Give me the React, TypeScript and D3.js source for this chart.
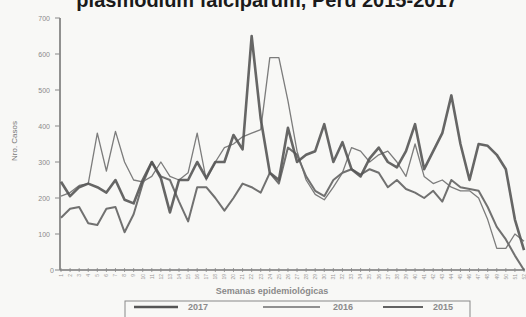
import React from "react";
import * as d3 from "d3";

const weeks: number[] = Array.from({ length: 52 }, (_, i) => i + 1);

const cases2017: number[] = [245, 205, 230, 240, 230, 215, 250, 195, 185, 250, 300, 255, 160, 250, 250, 300, 255, 300, 300, 375, 335, 650, 420, 270, 250, 395, 300, 320, 330, 405, 300, 355, 280, 260, 310, 340, 300, 285, 330, 405, 280, 330, 380, 485, 350, 250, 350, 345, 320, 280, 140, 55];
const cases2016: number[] = [205, 215, 235, 240, 380, 275, 385, 300, 250, 245, 260, 300, 260, 250, 270, 380, 250, 300, 340, 350, 370, 380, 390, 590, 590, 470, 330, 250, 210, 195, 230, 270, 340, 330, 300, 320, 330, 300, 260, 350, 260, 240, 250, 230, 220, 220, 200, 140, 60, 60, 100, 80];
const cases2015: number[] = [145, 170, 175, 130, 125, 170, 175, 105, 155, 240, 300, 260, 250, 190, 135, 230, 230, 200, 165, 200, 240, 230, 215, 270, 240, 340, 320, 260, 220, 205, 250, 270, 280, 265, 280, 270, 230, 250, 225, 215, 200, 220, 190, 250, 230, 225, 220, 175, 120, 85, 40, 0];

const yTicks: number[] = [0, 100, 200, 300, 400, 500, 600, 700];
const seriesNames: string[] = ["2017", "2016", "2015"];
const title = "plasmodium falciparum, Perú 2015-2017";
const yTitle = "Nro. Casos";
const xTitle = "Semanas epidemiológicas";

const W = 526;
const H = 317;

export default function App() {
  const x = d3.scaleLinear().domain([1, 52]).range([61, 524]);
  const y = d3.scaleLinear().domain([0, 700]).range([270, 18]);
  const line = d3
    .line<number>()
    .x((_, i) => x(weeks[i]))
    .y((d) => y(d));

  const series = [
    { name: seriesNames[2], data: cases2015, w: 2.0, c: "#626262" },
    { name: seriesNames[1], data: cases2016, w: 1.3, c: "#6e6e6e" },
    { name: seriesNames[0], data: cases2017, w: 2.6, c: "#555555" },
  ];

  const legendItems = [
    { x1: 134, x2: 178, tx: 188, w: 2.6, c: "#555555", name: seriesNames[0] },
    { x1: 263, x2: 320, tx: 333, w: 1.3, c: "#6e6e6e", name: seriesNames[1] },
    { x1: 383, x2: 423, tx: 433, w: 2.0, c: "#626262", name: seriesNames[2] },
  ];

  return (
    <svg
      width={W}
      height={H}
      style={{ position: "absolute", left: 0, top: 0, background: "#f8f8f6" }}
      fontFamily="Liberation Sans, Arial, sans-serif"
    >
      <rect x={0} y={0} width={W} height={H} fill="#f8f8f6" />
      <text x={267} y={7} textAnchor="middle" fontSize={20} fontWeight="bold" fill="#1a1a1a">
        {title}
      </text>

      {/* Y axis */}
      <line x1={60} x2={60} y1={y(700)} y2={y(0)} stroke="#777" strokeWidth={1.6} />
      {yTicks.map((t) => (
        <g key={t}>
          <line x1={55} x2={60} y1={y(t)} y2={y(t)} stroke="#888" strokeWidth={1} />
          <text x={t === 0 ? 54 : 50} y={y(t) + 2.5} textAnchor="end" fontSize={7} fill="#8a8a8a">
            {t}
          </text>
        </g>
      ))}
      <text
        transform={`translate(17,141) rotate(-90)`}
        textAnchor="middle"
        fontSize={8}
        fill="#777"
      >
        {yTitle}
      </text>

      {/* X axis */}
      <line x1={60} x2={525} y1={y(0)} y2={y(0)} stroke="#777" strokeWidth={1.6} />
      {weeks.map((w) => (
        <g key={w}>
          <line x1={x(w)} x2={x(w)} y1={y(0) - 2} y2={y(0) + 2} stroke="#888" strokeWidth={0.8} />
          <text
            transform={`translate(${x(w) + 1.8},${y(0) + 4}) rotate(-90)`}
            textAnchor="end"
            fontSize={5}
            fill="#999"
          >
            {w}
          </text>
        </g>
      ))}
      <text x={272} y={294} textAnchor="middle" fontSize={9} fontWeight="bold" fill="#8a8a8a">
        {xTitle}
      </text>

      {/* Lines */}
      {series.map((s) => (
        <path
          key={s.name}
          d={line(s.data) || ""}
          fill="none"
          stroke={s.c}
          strokeWidth={s.w}
          strokeLinejoin="round"
          opacity={0.9}
        />
      ))}

      {/* Legend */}
      <rect x={125} y={301} width={345} height={20} fill="none" stroke="#888" strokeWidth={1} />
      {legendItems.map((l) => (
        <g key={l.name}>
          <line x1={l.x1} x2={l.x2} y1={307} y2={307} stroke={l.c} strokeWidth={l.w} />
          <text x={l.tx} y={310} fontSize={9} fontWeight="bold" fill="#8a8a8a">
            {l.name}
          </text>
        </g>
      ))}
    </svg>
  );
}
